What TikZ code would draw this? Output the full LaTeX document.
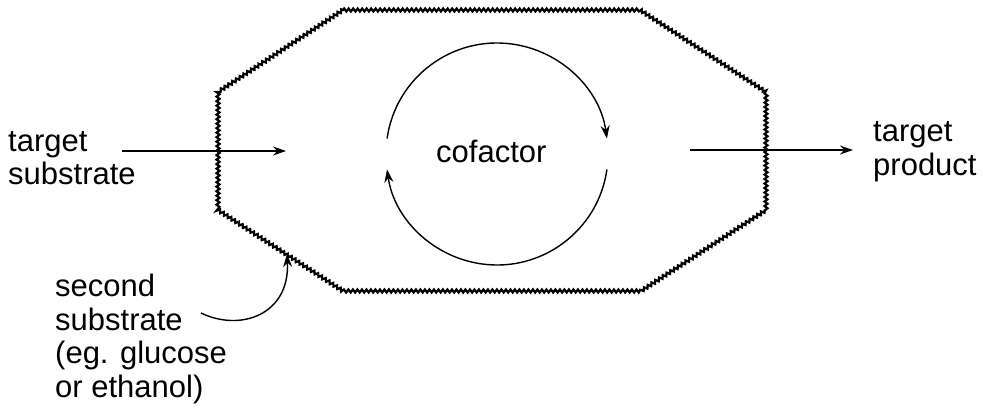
\documentclass[tikz,border=0pt]{standalone}
\usepackage{fontspec}
\setmainfont{Liberation Sans}
\usetikzlibrary{decorations.pathmorphing,arrows.meta}
\begin{document}
\begin{tikzpicture}[x=1pt,y=-1pt,
  label text/.style={font=\fontsize{31}{33.5}\selectfont, inner sep=0pt, align=left},
  membrane/.style={line width=2.2pt, decorate,
    decoration={zigzag, amplitude=1.5pt, segment length=4.5pt}},
  flow/.style={line width=1.4pt, -{Stealth[length=13pt,width=9pt]}}]
  \useasboundingbox (0,0) rectangle (983,414);

  % cell outline (octagon with a wavy wall)
  \coordinate (o1) at (343,10);
  \coordinate (o2) at (640,10);
  \coordinate (o3) at (766,92);
  \coordinate (o4) at (766,210);
  \coordinate (o5) at (641,291);
  \coordinate (o6) at (343,291);
  \coordinate (o7) at (218,210);
  \coordinate (o8) at (218,92);
  \draw[membrane] (o1) -- (o2) -- (o3) -- (o4) -- (o5) -- (o6) -- (o7) -- (o8) -- cycle;

  % labels (anchored at the baseline of their last line)
  \node[label text, anchor=base west] (subst) at (8,185) {target\\substrate};
  \node[label text, anchor=base west] (prod) at (873,175.5) {target\\product};
  \node[label text, anchor=base west] (cof) at (436,163) {cofactor};
  \node[label text, anchor=base west] (second) at (55,397) {second\\substrate\\(eg. glucose\\or ethanol)};

  % substrate in, product out
  \coordinate (inA) at (122,151);
  \coordinate (inB) at (286,151);
  \coordinate (outA) at (690,150);
  \coordinate (outB) at (853,150);
  \draw[flow] (inA) -- (inB);
  \draw[flow] (outA) -- (outB);

  % cofactor recycling loop
  \coordinate (cc) at (497,154);
  \draw[flow] ([shift={(-172:111)}]cc) arc[start angle=-172, end angle=-8, radius=111];
  \draw[flow] ([shift={(8:111)}]cc) arc[start angle=8, end angle=172, radius=111];

  % second substrate entering through the wall
  \coordinate (s2a) at (201,313);
  \coordinate (s2b) at (287,254);
  \draw[flow] (s2a) .. controls (240,332) and (290,315) .. (s2b);
\end{tikzpicture}
\end{document}
